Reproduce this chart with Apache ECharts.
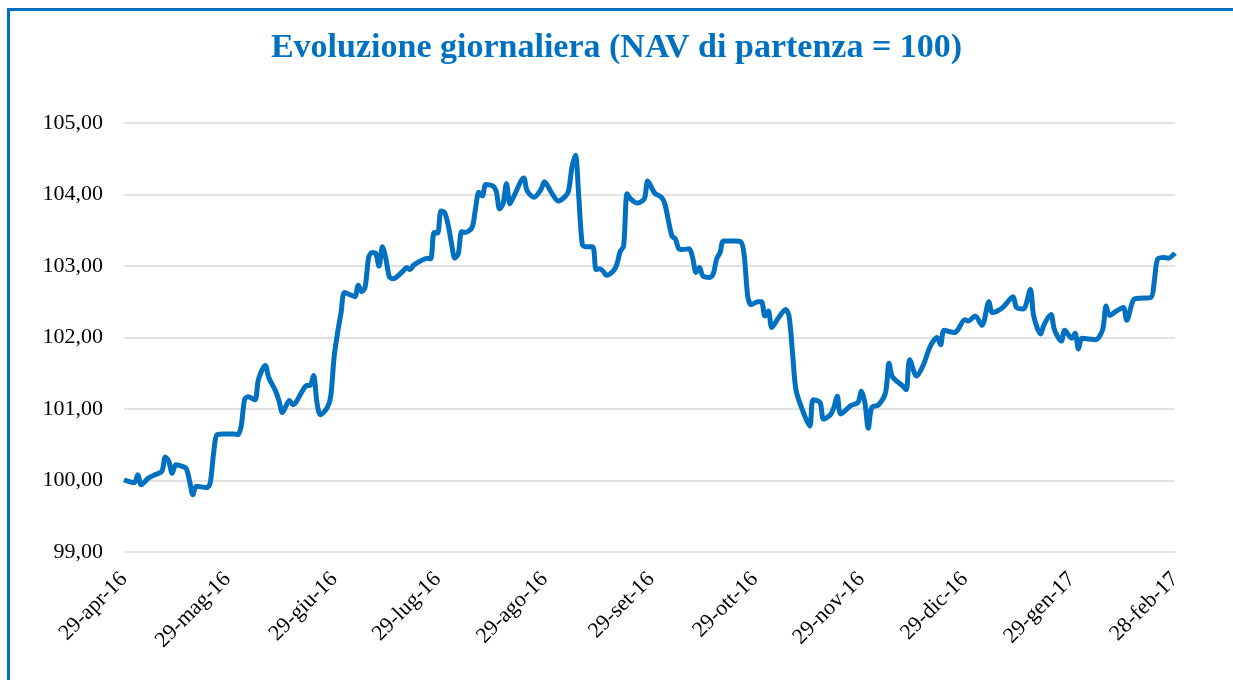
<!DOCTYPE html>
<html>
<head>
<meta charset="utf-8">
<script src="https://cdn.jsdelivr.net/npm/echarts@6/dist/echarts.min.js"></script>
<style>
html,body{margin:0;padding:0;background:#fff;}
#chart{width:1233px;height:680px;}
</style>
</head>
<body>
<div id="chart"></div>
<script>
const dates = [
'2016-04-29','2016-05-02','2016-05-03','2016-05-04','2016-05-06','2016-05-08','2016-05-10','2016-05-11','2016-05-12','2016-05-13',
'2016-05-14','2016-05-15','2016-05-17','2016-05-18','2016-05-19','2016-05-20','2016-05-23','2016-05-24','2016-05-25','2016-05-26',
'2016-05-28','2016-05-31','2016-06-01','2016-06-02','2016-06-03','2016-06-04','2016-06-06','2016-06-07','2016-06-09','2016-06-10',
'2016-06-12','2016-06-13','2016-06-14','2016-06-16','2016-06-17','2016-06-20','2016-06-21','2016-06-22','2016-06-23','2016-06-24',
'2016-06-25','2016-06-27','2016-06-28','2016-06-29','2016-06-30','2016-07-01','2016-07-02','2016-07-04','2016-07-05','2016-07-06',
'2016-07-07','2016-07-08','2016-07-09','2016-07-10','2016-07-11','2016-07-12','2016-07-13','2016-07-14','2016-07-15','2016-07-16',
'2016-07-19','2016-07-20','2016-07-21','2016-07-22','2016-07-24','2016-07-26','2016-07-27','2016-07-28','2016-07-29','2016-07-30',
'2016-07-31','2016-08-01','2016-08-02','2016-08-03','2016-08-04','2016-08-05','2016-08-06','2016-08-08','2016-08-09','2016-08-10',
'2016-08-11','2016-08-12','2016-08-14','2016-08-15','2016-08-16','2016-08-17','2016-08-18','2016-08-19','2016-08-20','2016-08-23',
'2016-08-24','2016-08-26','2016-08-28','2016-08-29','2016-08-31','2016-09-02','2016-09-04','2016-09-05','2016-09-06','2016-09-07',
'2016-09-08','2016-09-09','2016-09-10','2016-09-12','2016-09-13','2016-09-14','2016-09-15','2016-09-16','2016-09-18','2016-09-19',
'2016-09-20','2016-09-21','2016-09-22','2016-09-23','2016-09-25','2016-09-27','2016-09-28','2016-09-30','2016-10-02','2016-10-03',
'2016-10-05','2016-10-06','2016-10-07','2016-10-08','2016-10-10','2016-10-11','2016-10-12','2016-10-13','2016-10-14','2016-10-16',
'2016-10-17','2016-10-18','2016-10-19','2016-10-20','2016-10-23','2016-10-25','2016-10-26','2016-10-27','2016-10-28','2016-10-30',
'2016-10-31','2016-11-01','2016-11-02','2016-11-03','2016-11-05','2016-11-07','2016-11-08','2016-11-09','2016-11-10','2016-11-12',
'2016-11-14','2016-11-15','2016-11-17','2016-11-18','2016-11-20','2016-11-21','2016-11-22','2016-11-23','2016-11-26','2016-11-28',
'2016-11-29','2016-11-30','2016-12-01','2016-12-02','2016-12-04','2016-12-06','2016-12-07','2016-12-08','2016-12-11','2016-12-12',
'2016-12-13','2016-12-15','2016-12-17','2016-12-19','2016-12-21','2016-12-22','2016-12-23','2016-12-26','2016-12-27','2016-12-29',
'2016-12-30','2017-01-01','2017-01-03','2017-01-05','2017-01-06','2017-01-09','2017-01-12','2017-01-13','2017-01-15','2017-01-17',
'2017-01-18','2017-01-20','2017-01-21','2017-01-23','2017-01-24','2017-01-26','2017-01-27','2017-01-29','2017-01-30','2017-01-31',
'2017-02-01','2017-02-03','2017-02-05','2017-02-07','2017-02-08','2017-02-09','2017-02-11','2017-02-13','2017-02-14','2017-02-16',
'2017-02-18','2017-02-21','2017-02-22','2017-02-23','2017-02-25','2017-02-26','2017-02-28'
];
const navValues = [
100.01,99.97,100.08,99.94,100.03,100.08,100.13,100.33,100.27,100.10,
100.22,100.21,100.17,100.00,99.80,99.92,99.90,99.96,100.38,100.64,
100.65,100.65,100.64,100.76,101.13,101.17,101.13,101.41,101.61,101.44,
101.25,101.11,100.95,101.12,101.06,101.27,101.33,101.33,101.47,101.09,
100.92,101.02,101.18,101.74,102.07,102.35,102.63,102.59,102.57,102.73,
102.64,102.71,103.12,103.19,103.18,103.00,103.27,103.10,102.85,102.82,
102.93,102.98,102.95,103.01,103.07,103.11,103.10,103.47,103.46,103.77,
103.75,103.59,103.33,103.11,103.17,103.48,103.47,103.54,103.80,104.03,
103.98,104.14,104.12,104.05,103.80,103.87,104.15,103.87,103.96,104.23,
104.05,103.96,104.07,104.18,104.03,103.91,103.97,104.05,104.38,104.55,
103.95,103.30,103.27,103.27,102.95,102.96,102.93,102.87,102.93,103.02,
103.20,103.28,104.01,103.94,103.88,103.94,104.19,104.02,103.96,103.86,
103.42,103.38,103.24,103.23,103.24,103.12,102.91,102.98,102.86,102.84,
102.89,103.10,103.19,103.35,103.35,103.34,103.14,102.58,102.46,102.50,
102.50,102.30,102.37,102.14,102.28,102.39,102.30,101.79,101.27,100.97,
100.76,101.13,101.09,100.86,100.92,101.02,101.18,100.93,101.05,101.09,
101.25,101.09,100.73,101.02,101.06,101.23,101.64,101.45,101.32,101.27,
101.69,101.46,101.62,101.88,102.00,101.90,102.10,102.07,102.11,102.25,
102.23,102.30,102.17,102.50,102.35,102.42,102.57,102.42,102.40,102.67,
102.30,102.05,102.18,102.32,102.11,101.95,102.10,101.99,102.06,101.84,
101.99,101.98,101.97,102.11,102.44,102.31,102.37,102.42,102.24,102.53,
102.55,102.56,102.79,103.10,103.12,103.11,103.18
];
const xTickDates = ['2016-04-29','2016-05-29','2016-06-29','2016-07-29','2016-08-29','2016-09-29','2016-10-29','2016-11-29','2016-12-29','2017-01-29','2017-02-28'];
const xTickLabels = ['29-apr-16','29-mag-16','29-giu-16','29-lug-16','29-ago-16','29-set-16','29-ott-16','29-nov-16','29-dic-16','29-gen-17','28-feb-17'];
const yTicks = [99,100,101,102,103,104,105];
const titleText = 'Evoluzione giornaliera (NAV di partenza = 100)';

function ts(s){ const p = s.split('-').map(Number); return Date.UTC(p[0], p[1]-1, p[2]); }
const tickTs = xTickDates.map(ts);
const seriesData = dates.map((d,i)=>[ts(d), navValues[i]]);

const chart = echarts.init(document.getElementById('chart'), null, {renderer:'canvas'});
chart.setOption({
  animation:false,
  backgroundColor:'#fff',
  title:{
    text:titleText, left:'center', top:26,
    textStyle:{fontFamily:'"Liberation Serif", serif', fontWeight:'bold', fontSize:34, color:'#0070C0'}
  },
  grid:{left:124, right:58, top:123, bottom:128, containLabel:false},
  xAxis:{
    type:'value', min:tickTs[0], max:tickTs[tickTs.length-1],
    axisLine:{show:false}, axisTick:{show:false}, splitLine:{show:false},
    axisLabel:{
      customValues:tickTs, rotate:45, margin:24, showMinLabel:true, showMaxLabel:true,
      fontFamily:'"Liberation Serif", serif', fontSize:22, color:'#000',
      formatter:function(v){ const i = tickTs.indexOf(v); return i>=0 ? xTickLabels[i] : ''; }
    }
  },
  yAxis:{
    type:'value', min:yTicks[0], max:yTicks[yTicks.length-1], interval:1,
    axisLine:{show:false}, axisTick:{show:false},
    splitLine:{lineStyle:{color:'#d9d9d9', width:1.5}},
    axisLabel:{
      margin:21, fontFamily:'"Liberation Serif", serif', fontSize:22, color:'#000',
      formatter:function(v){ return v.toFixed(2).replace('.', ','); }
    }
  },
  series:[{
    type:'line', data:seriesData, showSymbol:false, smooth:0.3,
    lineStyle:{color:'#0070C0', width:5}, itemStyle:{color:'#0070C0'}
  }],
  graphic:[{
    type:'polyline', silent:true,
    shape:{points:[[8.5,690],[8.5,9.5],[1240,9.5]]},
    style:{stroke:'#0070C0', lineWidth:3, fill:null}
  }]
});
</script>
</body>
</html>
